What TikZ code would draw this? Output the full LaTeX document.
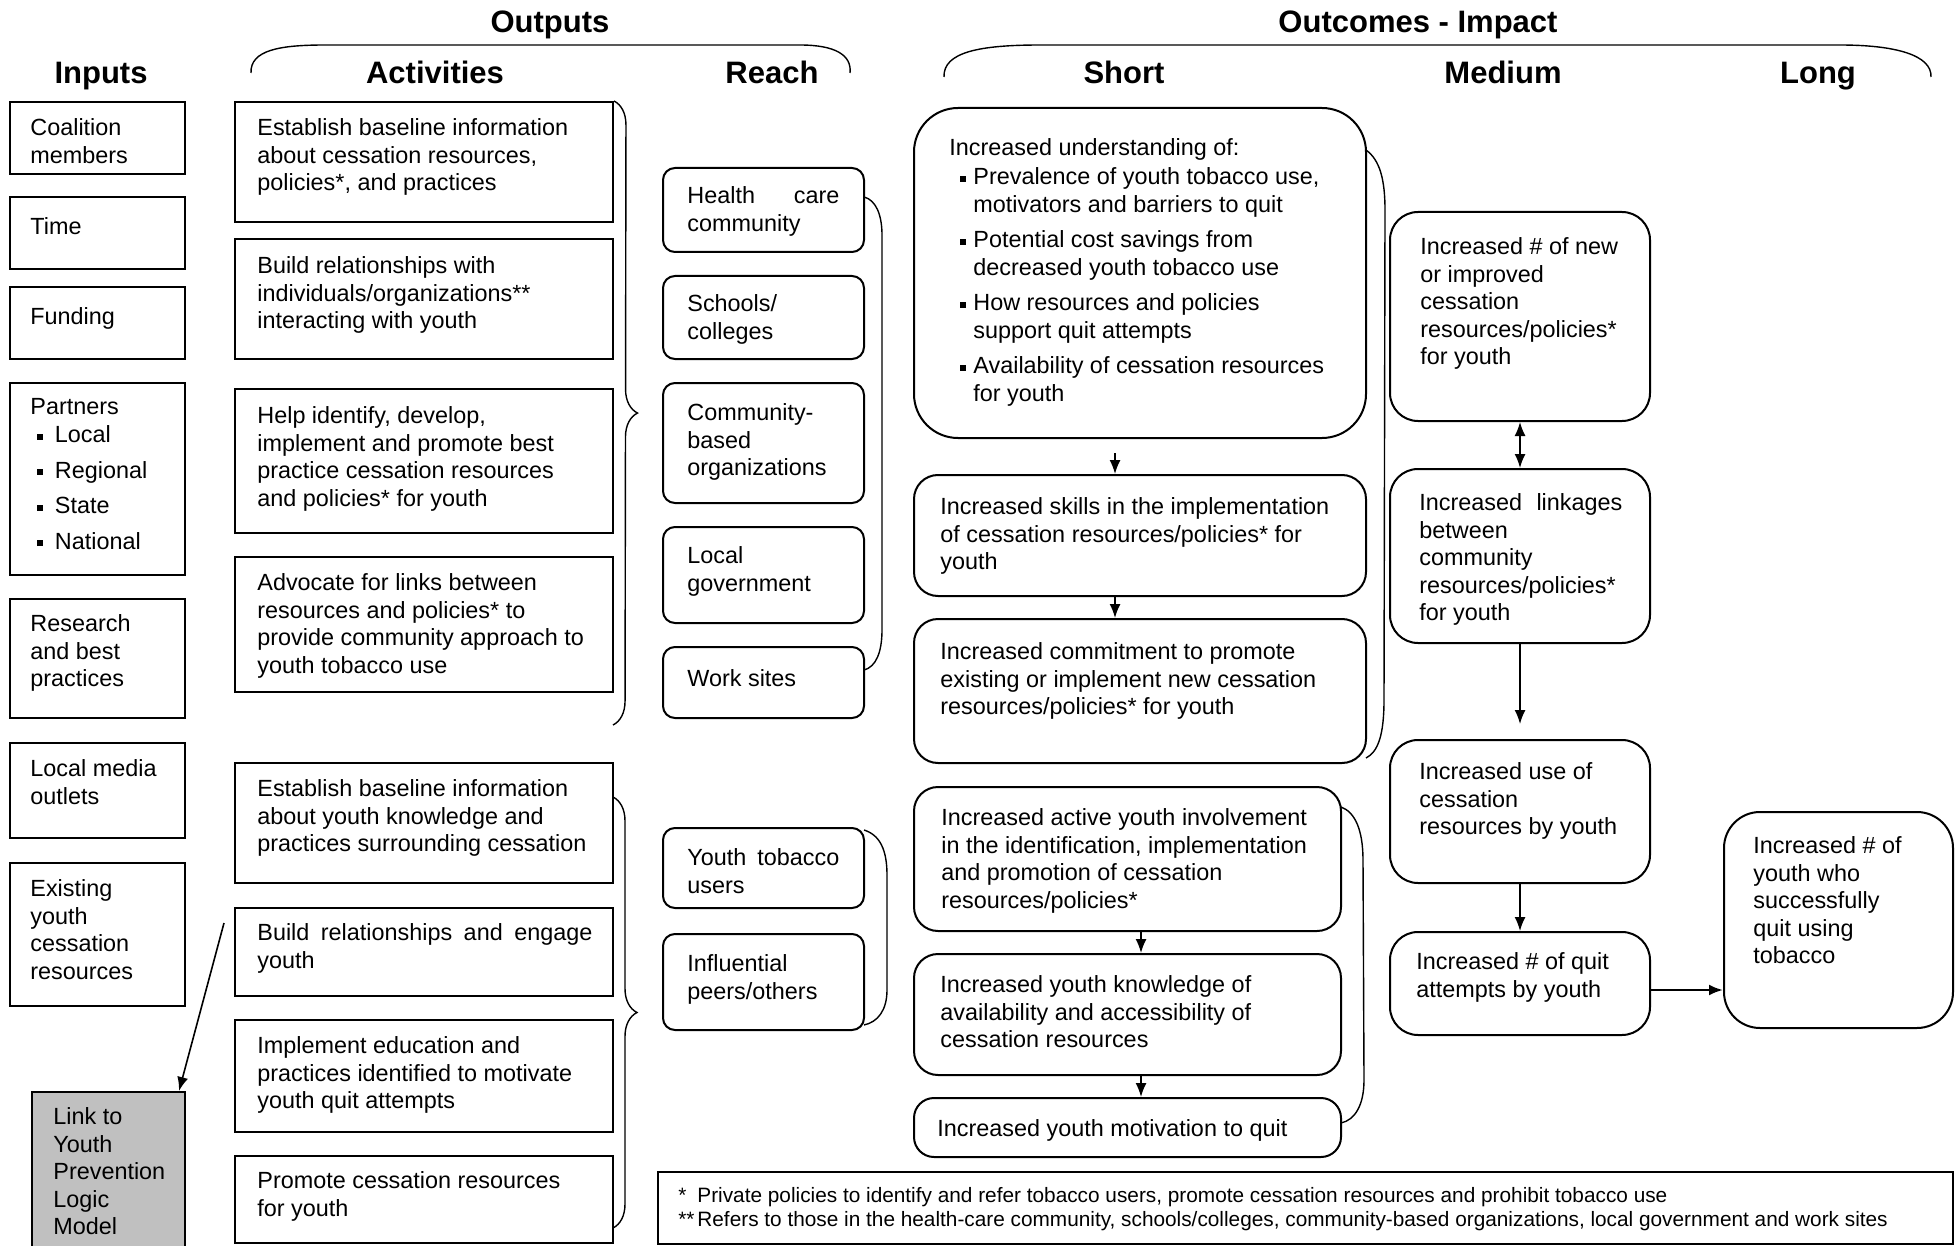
\documentclass[tikz,border=0pt]{standalone}
\usepackage{fontspec}
\setmainfont{Liberation Sans}
\usetikzlibrary{fit,arrows.meta,decorations.pathreplacing}
\definecolor{linkgray}{RGB}{192,192,192}
\newcommand\sqb{\rule[1.5pt]{3pt}{3pt}}
\newcommand\bodyf{\fontsize{11.7pt}{13.75pt}\selectfont}
\newcommand\headf{\fontsize{15.5pt}{18pt}\selectfont\bfseries}
\newcommand\notef{\fontsize{10.4pt}{12pt}\selectfont}
\newcommand\itm{\makebox[12.25pt][l]{\hspace*{3.5pt}\sqb}}
\newcommand\sitm{\makebox[12pt][l]{\hspace*{5.25pt}\sqb}}
\newcommand\ind{\hspace*{12pt}}
\begin{document}
\begin{tikzpicture}[x=0.5pt,y=-0.5pt,
  sqbox/.style={draw, line width=1pt, inner sep=0pt},
  rbox/.style={draw, line width=1pt, inner sep=0pt, rounded corners=#1},
  rbox/.default=6pt,
  tx/.style={anchor=north west, inner sep=0pt, yshift=-1.25pt, align=left, font=\bodyf, execute at begin node=\strut},
  hd/.style={inner sep=0pt, anchor=base, font=\headf},
  arr/.style={line width=0.8pt, -{Latex[length=7pt,width=5.5pt]}},
  arrtwo/.style={line width=0.8pt, {Latex[length=7pt,width=5.5pt]}-{Latex[length=7pt,width=5.5pt]}},
  brk/.style={line width=0.7pt}
]
\useasboundingbox (0,0) rectangle (1960,1246);
\clip (0,0) rectangle (1960,1246);
\fill[white] (0,0) rectangle (1960,1246);

% headers
\node[hd] (hout) at (550,33) {Outputs};
\node[hd] (hoc) at (1418,33) {Outcomes - Impact};
\node[hd] (hin) at (101,84) {Inputs};
\node[hd] (hact) at (435,84) {Activities};
\node[hd] (hrch) at (772,84) {Reach};
\node[hd] (hsh) at (1124,84) {Short};
\node[hd] (hmd) at (1503,84) {Medium};
\node[hd] (hlg) at (1818,84) {Long};
\draw[brk] (251,73) .. controls (250,50) and (280,45) .. (325,45) -- (800,45) .. controls (835,45) and (852,55) .. (850,73);
\draw[brk] (944,77) .. controls (943,52) and (980,45) .. (1040,45) -- (1840,45) .. controls (1895,45) and (1932,55) .. (1931,77);

% inputs
\node[sqbox, fit={(10,102) (185,174)}] (in1) {};
\node[sqbox, fit={(10,197) (185,269)}] (in2) {};
\node[sqbox, fit={(10,287) (185,359)}] (in3) {};
\node[sqbox, fit={(10,383) (185,575)}] (in4) {};
\node[sqbox, fit={(10,599) (185,718)}] (in5) {};
\node[sqbox, fit={(10,743) (185,838)}] (in6) {};
\node[sqbox, fit={(10,863) (185,1006)}] (in7) {};
\node[sqbox, fill=linkgray, fit={(32,1092) (185,1262)}] (link) {};
\node[tx] (tin1) at (30,116) {Coalition\\members};
\node[tx] (tin2) at (30,212) {Time};
\node[tx] (tin3) at (30,302) {Funding};
\node[tx] (tin4) at (30,396) {Partners\\\itm Local\\[4pt]\itm Regional\\[4pt]\itm State\\[4pt]\itm National};
\node[tx] (tin5) at (30,612) {Research\\and best\\practices};
\node[tx] (tin6) at (30,757) {Local media\\outlets};
\node[tx] (tin7) at (30,877) {Existing\\youth\\cessation\\resources};
\node[tx] (tlink) at (53,1105) {Link to\\Youth\\Prevention\\Logic\\Model};
\coordinate (lk0) at (224,923);
\draw[arr] (lk0) -- ([xshift=-3.5pt]link.north east);

% activities
\node[sqbox, fit={(235,102) (613,222)}] (a1) {};
\node[sqbox, fit={(235,239) (613,359)}] (a2) {};
\node[sqbox, fit={(235,389) (613,533)}] (a3) {};
\node[sqbox, fit={(235,557) (613,692)}] (a4) {};
\node[sqbox, fit={(235,763) (613,883)}] (a5) {};
\node[sqbox, fit={(235,908) (613,996)}] (a6) {};
\node[sqbox, fit={(235,1020) (613,1132)}] (a7) {};
\node[sqbox, fit={(235,1156) (613,1243)}] (a8) {};
\node[tx] (ta1) at (257,116) {Establish baseline information\\about cessation resources,\\policies*, and practices};
\node[tx] (ta2) at (257,254) {Build relationships with\\individuals/organizations**\\interacting with youth};
\node[tx] (ta3) at (257,404) {Help identify, develop,\\implement and promote best\\practice cessation resources\\and policies* for youth};
\node[tx] (ta4) at (257,571) {Advocate for links between\\resources and policies* to\\provide community approach to\\youth tobacco use};
\node[tx] (ta5) at (257,777) {Establish baseline information\\about youth knowledge and\\practices surrounding cessation};
\node[tx] (ta6) at (257,921) {\makebox[167.5pt][s]{Build relationships and engage}\\youth};
\node[tx] (ta7) at (257,1034) {Implement education and\\practices identified to motivate\\youth quit attempts};
\node[tx] (ta8) at (257,1169) {Promote cessation resources\\for youth};
\draw[brk, decorate, decoration={brace, amplitude=12pt}] (a1.north east) -- (613,725);
\draw[brk, decorate, decoration={brace, amplitude=12pt}] (613,797) -- (613,1228);

% reach
\node[rbox, fit={(663,168) (864,252)}] (r1) {};
\node[rbox, fit={(663,276) (864,359)}] (r2) {};
\node[rbox, fit={(663,383) (864,503)}] (r3) {};
\node[rbox, fit={(663,527) (864,623)}] (r4) {};
\node[rbox, fit={(663,647) (864,718)}] (r5) {};
\node[rbox, fit={(663,828) (864,908)}] (r6) {};
\node[rbox, fit={(663,934) (864,1030)}] (r7) {};
\node[tx] (tr1) at (687,184) {\makebox[76pt][s]{Health care}\\community};
\node[tx] (tr2) at (687,292) {Schools/\\colleges};
\node[tx] (tr3) at (687,401) {Community-\\based\\organizations};
\node[tx] (tr4) at (687,544) {Local\\government};
\node[tx] (tr5) at (687,664) {Work sites};
\node[tx] (tr6) at (687,846) {\makebox[76pt][s]{Youth tobacco}\\users};
\node[tx] (tr7) at (687,952) {Influential\\peers/others};
\draw[brk] (864,197) .. controls (876,200) and (882,215) .. (882,235) -- (882,630) .. controls (882,652) and (876,667) .. (864,670);
\draw[brk] (864,830) .. controls (880,835) and (887,850) .. (887,875) -- (887,990) .. controls (887,1010) and (878,1022) .. (864,1025);

% short
\node[rbox=22pt, fit={(914,108) (1366,438)}] (s1) {};
\node[rbox=12pt, fit={(914,475) (1366,596)}] (s2) {};
\node[rbox=12pt, fit={(914,619) (1366,763)}] (s3) {};
\node[rbox=12pt, fit={(914,787) (1341,931)}] (s4) {};
\node[rbox=12pt, fit={(914,954) (1341,1075)}] (s5) {};
\node[rbox=10pt, fit={(914,1098) (1341,1157)}] (s6) {};
\node[tx] (ts1) at (949,136) {Increased understanding of:\\[0.75pt]\sitm Prevalence of youth tobacco use,\\\ind motivators and barriers to quit\\[4pt]\sitm Potential cost savings from\\\ind decreased youth tobacco use\\[4pt]\sitm How resources and policies\\\ind support quit attempts\\[4pt]\sitm Availability of cessation resources\\\ind for youth};
\node[tx] (ts2) at (940,495) {Increased skills in the implementation\\of cessation resources/policies* for\\youth};
\node[tx] (ts3) at (940,640) {Increased commitment to promote\\existing or implement new cessation\\resources/policies* for youth};
\node[tx] (ts4) at (941,806) {Increased active youth involvement\\in the identification, implementation\\and promotion of cessation\\resources/policies*};
\node[tx] (ts5) at (940,973) {Increased youth knowledge of\\availability and accessibility of\\cessation resources};
\node[tx] (ts6) at (937,1114) {Increased youth motivation to quit};
\coordinate (xa) at (1115,0);
\coordinate (xb) at (1141,0);
\draw[arr, shorten <=7pt] (xa |- s1.south) -- (xa |- s2.north);
\draw[arr] (xa |- s2.south) -- (xa |- s3.north);
\draw[arr] (xb |- s4.south) -- (xb |- s5.north);
\draw[arr] (xb |- s5.south) -- (xb |- s6.north);
\draw[brk] (1366,150) .. controls (1380,160) and (1385,180) .. (1385,210) -- (1384,700) .. controls (1384,735) and (1378,752) .. (1366,758);
\draw[brk] (1341,807) .. controls (1355,812) and (1363,830) .. (1363,860) -- (1364,1080) .. controls (1364,1105) and (1355,1120) .. (1341,1123);

% medium
\node[rbox=14pt, fit={(1390,212) (1650,421)}] (m1) {};
\node[rbox=14pt, fit={(1390,469) (1650,643)}] (m2) {};
\node[rbox=14pt, fit={(1390,740) (1650,883)}] (m3) {};
\node[rbox=14pt, fit={(1390,932) (1650,1035)}] (m4) {};
\node[tx] (tm1) at (1420,235) {Increased \# of new\\or improved\\cessation\\resources/policies*\\for youth};
\node[tx] (tm2) at (1419,491) {\makebox[101.5pt][s]{Increased linkages}\\between\\community\\resources/policies*\\for youth};
\node[tx] (tm3) at (1419,760) {Increased use of\\cessation\\resources by youth};
\node[tx] (tm4) at (1416,950) {Increased \# of quit\\attempts by youth};
\draw[arrtwo] (m1) -- (m2);
\draw[arr, shorten >=7.5pt] (m2) -- (m3);
\draw[arr] (m3) -- (m4);

% long
\node[rbox=18pt, fit={(1724,812) (1953,1028)}] (lg) {};
\node[tx] (tlg) at (1753,834) {Increased \# of\\youth who\\successfully\\quit using\\tobacco};
\coordinate (ym) at (0,990);
\draw[arr, line width=1.2pt] (ym -| m4.east) -- (ym -| lg.west);

% footnote
\node[sqbox, fit={(658,1172) (1953,1244)}] (fn) {};
\node[tx, font=\notef] (tfn) at (678,1185) {\makebox[9.5pt][l]{*}Private policies to identify and refer tobacco users, promote cessation resources and prohibit tobacco use\\\makebox[9.5pt][l]{**}Refers to those in the health-care community, schools/colleges, community-based organizations, local government and work sites};
\end{tikzpicture}
\end{document}
